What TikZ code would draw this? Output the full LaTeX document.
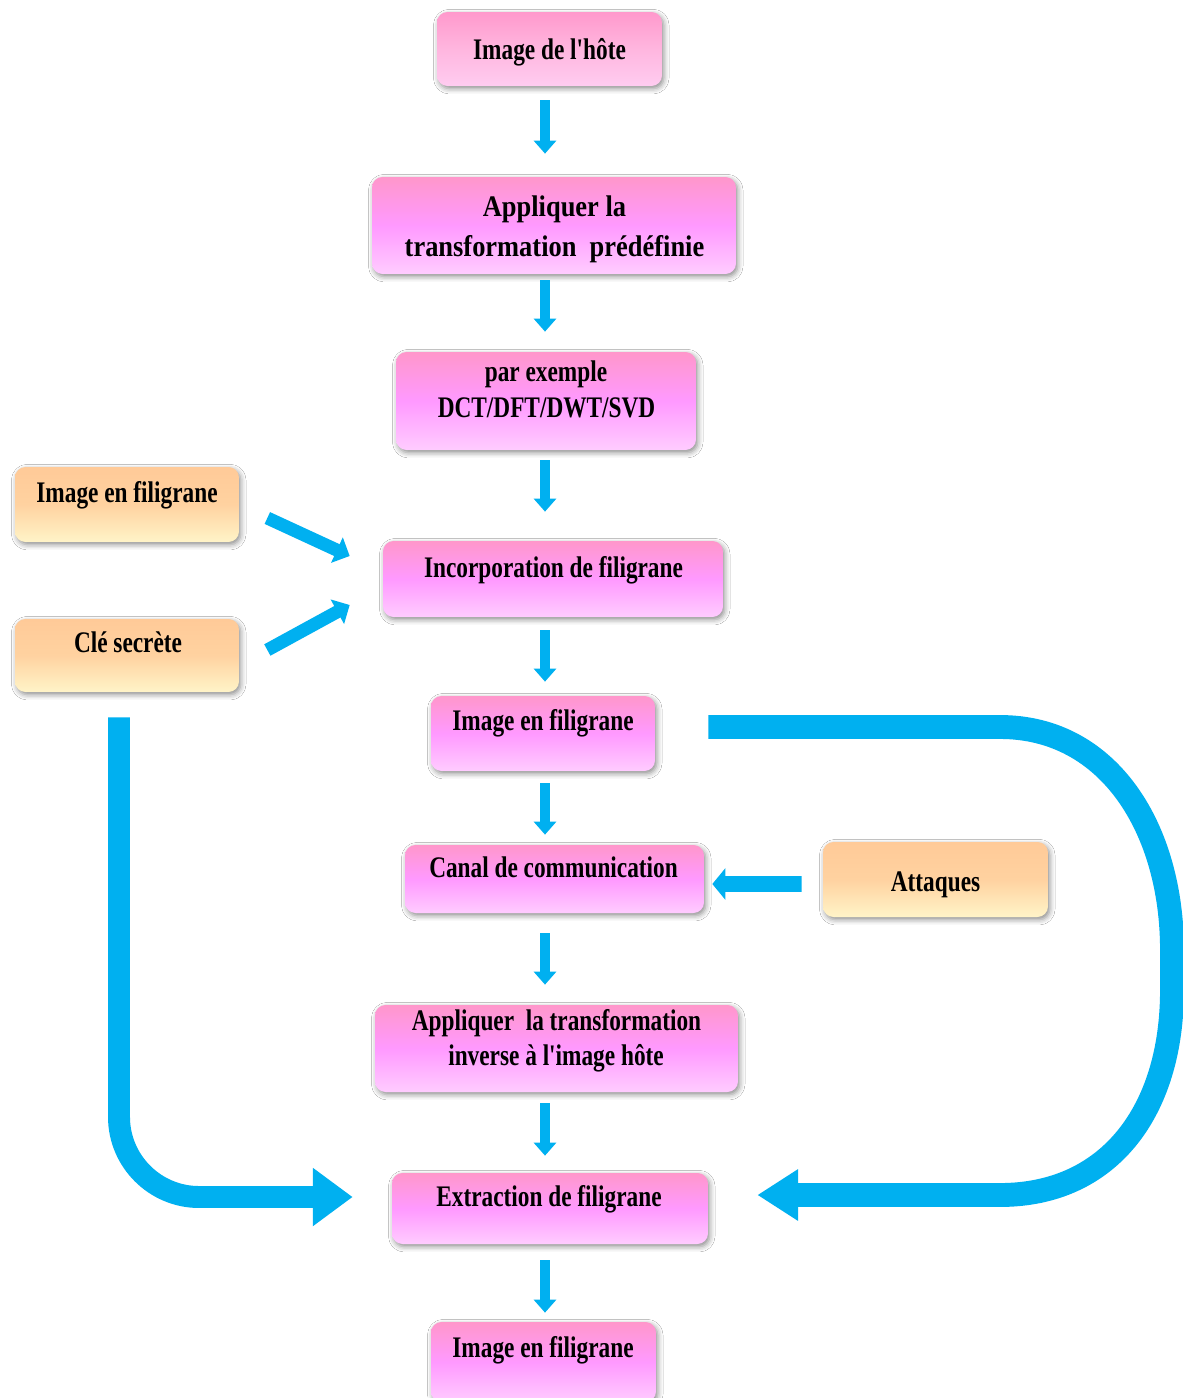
\documentclass[tikz,border=0pt]{standalone}
\usepackage{fontspec}
\newfontfamily\boxfont{Liberation Serif}[FakeStretch=0.78]
\newfontfamily\wideboxfont{Liberation Serif}[FakeStretch=0.885]
\usetikzlibrary{arrows.meta,shadows.blur,calc}

\definecolor{flowblue}{HTML}{00B0F0}
\definecolor{pinkA}{HTML}{FF97CB}
\definecolor{pinkB}{HTML}{FF99FF}
\definecolor{pinkC}{HTML}{FFCCFF}
\definecolor{hostA}{HTML}{FF99CC}
\definecolor{hostB}{HTML}{FFB6DF}
\definecolor{hostC}{HTML}{FFCCF0}
\definecolor{orA}{HTML}{FFCA98}
\definecolor{orB}{HTML}{FFD2A0}
\definecolor{orC}{HTML}{FFF4C8}

\tikzset{
  boxbase/.style={rectangle, rounded corners=6pt, inner sep=0pt,
    blur shadow={shadow xshift=1pt, shadow yshift=-1.5pt,
                 shadow blur radius=3pt, shadow opacity=45}},
  pinkbox/.style={boxbase, top color=pinkA, bottom color=pinkC, middle color=pinkB},
  hostbox/.style={boxbase, top color=hostA, bottom color=hostC, middle color=hostB},
  orangebox/.style={boxbase, top color=orA, bottom color=orC, middle color=orB},
  lbl/.style={anchor=base, inner sep=0pt,
    font=\boxfont\bfseries\fontsize{17}{20}\selectfont},
  widelbl/.style={lbl, font=\wideboxfont\bfseries\fontsize{17}{20}\selectfont},
  sarr/.style={draw=flowblue, line width=5.7pt,
    -{Triangle[width=12.5pt,length=7.4pt]}, flowblue},
  darr/.style={draw=flowblue, line width=7.4pt,
    -{Triangle[width=15.5pt,length=8pt]}, flowblue},
  harr/.style={draw=flowblue, line width=9pt,
    -{Triangle[width=17.6pt,length=7.4pt]}, flowblue},
  bigarrR/.style={draw=flowblue, line width=13.6pt,
    -{Triangle[width=27.8pt,length=23.2pt]}, flowblue},
  bigarrL/.style={draw=flowblue, line width=12.5pt,
    -{Triangle[width=31.7pt,length=22.7pt]}, flowblue},
}

\begin{document}
\begin{tikzpicture}[x=0.02cm, y=-0.02cm]
\useasboundingbox (0,0) rectangle (1182,1398);
\fill[white] (0,0) rectangle (1182,1398);

% main column of processing steps
\node[hostbox, minimum width=4.5cm, minimum height=1.48cm] (b1) at (549.5,49) {};
\node[pinkbox, minimum width=7.28cm, minimum height=1.94cm] (b2) at (554,225.5) {};
\node[pinkbox, minimum width=6cm, minimum height=1.96cm] (b3) at (546,401) {};
\node[pinkbox, minimum width=6.8cm, minimum height=1.52cm] (b4) at (553,579) {};
\node[pinkbox, minimum width=4.48cm, minimum height=1.5cm] (b5) at (543,733.5) {};
\node[pinkbox, minimum width=5.98cm, minimum height=1.36cm] (b6) at (554.5,879) {};
\node[pinkbox, minimum width=7.26cm, minimum height=1.74cm] (b7) at (556.5,1048.5) {};
\node[pinkbox, minimum width=6.32cm, minimum height=1.42cm] (b8) at (550,1208.5) {};
\node[pinkbox, minimum width=4.5cm, minimum height=1.6cm] (b9) at (543.5,1362) {};

% side inputs
\node[orangebox, minimum width=4.48cm, minimum height=1.5cm] (o1) at (127,504.5) {};
\node[orangebox, minimum width=4.48cm, minimum height=1.46cm] (o2) at (127,655.5) {};
\node[orangebox, minimum width=4.5cm, minimum height=1.5cm] (o3) at (935.5,879.5) {};

% labels
\node[lbl] (t1) at (549.5,60) {Image de l'hôte};
\node[widelbl] (t2a) at (554.5,217) {Appliquer la};
\node[widelbl] (t2b) at (554.5,257) {transformation\ \ prédéfinie};
\node[lbl] (t3a) at (546,381) {par exemple};
\node[lbl] (t3b) at (546.5,418) {DCT/DFT/DWT/SVD};
\node[lbl] (t4) at (553.5,577) {Incorporation de filigrane};
\node[lbl] (t5) at (543,730) {Image en filigrane};
\node[lbl] (t6) at (553.5,877) {Canal de communication};
\node[lbl] (t7a) at (556.5,1030) {Appliquer\ \ la transformation};
\node[lbl] (t7b) at (556,1065) {inverse à l'image hôte};
\node[lbl] (t8) at (549,1206) {Extraction de filigrane};
\node[lbl] (t9) at (543,1357) {Image en filigrane};
\node[lbl] (to1) at (127,502) {Image en filigrane};
\node[lbl] (to2) at (128,652) {Clé secrète};
\node[lbl] (to3) at (935.5,891) {Attaques};

% arrows down the main column
\coordinate (col) at (545,0);
\draw[sarr] ($(col |- b1.south)+(0,14)$) -- ($(col |- b2.north)+(0,-23)$);
\draw[sarr] ($(col |- b2.south)+(0,6)$) -- ($(col |- b3.north)+(0,-20)$);
\draw[sarr] ($(col |- b3.south)+(0,10)$) -- ($(col |- b4.north)+(0,-29)$);
\draw[sarr] ($(col |- b4.south)+(0,13)$) -- ($(col |- b5.north)+(0,-14)$);
\draw[sarr] ($(col |- b5.south)+(0,12)$) -- ($(col |- b6.north)+(0,-10)$);
\draw[sarr] ($(col |- b6.south)+(0,20)$) -- ($(col |- b7.north)+(0,-20)$);
\draw[sarr] ($(col |- b7.south)+(0,11)$) -- ($(col |- b8.north)+(0,-17)$);
\draw[sarr] ($(col |- b8.south)+(0,16)$) -- ($(col |- b9.north)+(0,-9)$);

% watermark and key into the embedding step
\draw[darr] ($(o1.east)+(28,13.5)$) -- ($(b4.west)+(-33,-23)$);
\draw[darr] ($(o2.east)+(28,-5.5)$) -- ($(b4.west)+(-33,26)$);

% attacks on the channel
\draw[harr] ($(o3.west)+(-21,4.5)$) -- ($(b6.east)+(8,5)$);

% watermarked image looped back to extraction
\draw[bigarrR] ($(b5.east)+(53,-6.5)$) -- (1000,727)
  .. controls (1110,727) and (1172,830) .. (1172,950)
  -- (1172,990)
  .. controls (1172,1110) and (1110,1195) .. (1000,1195)
  -- ($(b8.east)+(49,-13.5)$);

% secret key carried down to extraction
\draw[bigarrL] ($(o2.south)+(-8,25)$) -- (119,1117)
  .. controls (119,1161) and (155,1197) .. (199,1197)
  -- ($(b8.west)+(-39,-11.5)$);
\end{tikzpicture}
\end{document}
